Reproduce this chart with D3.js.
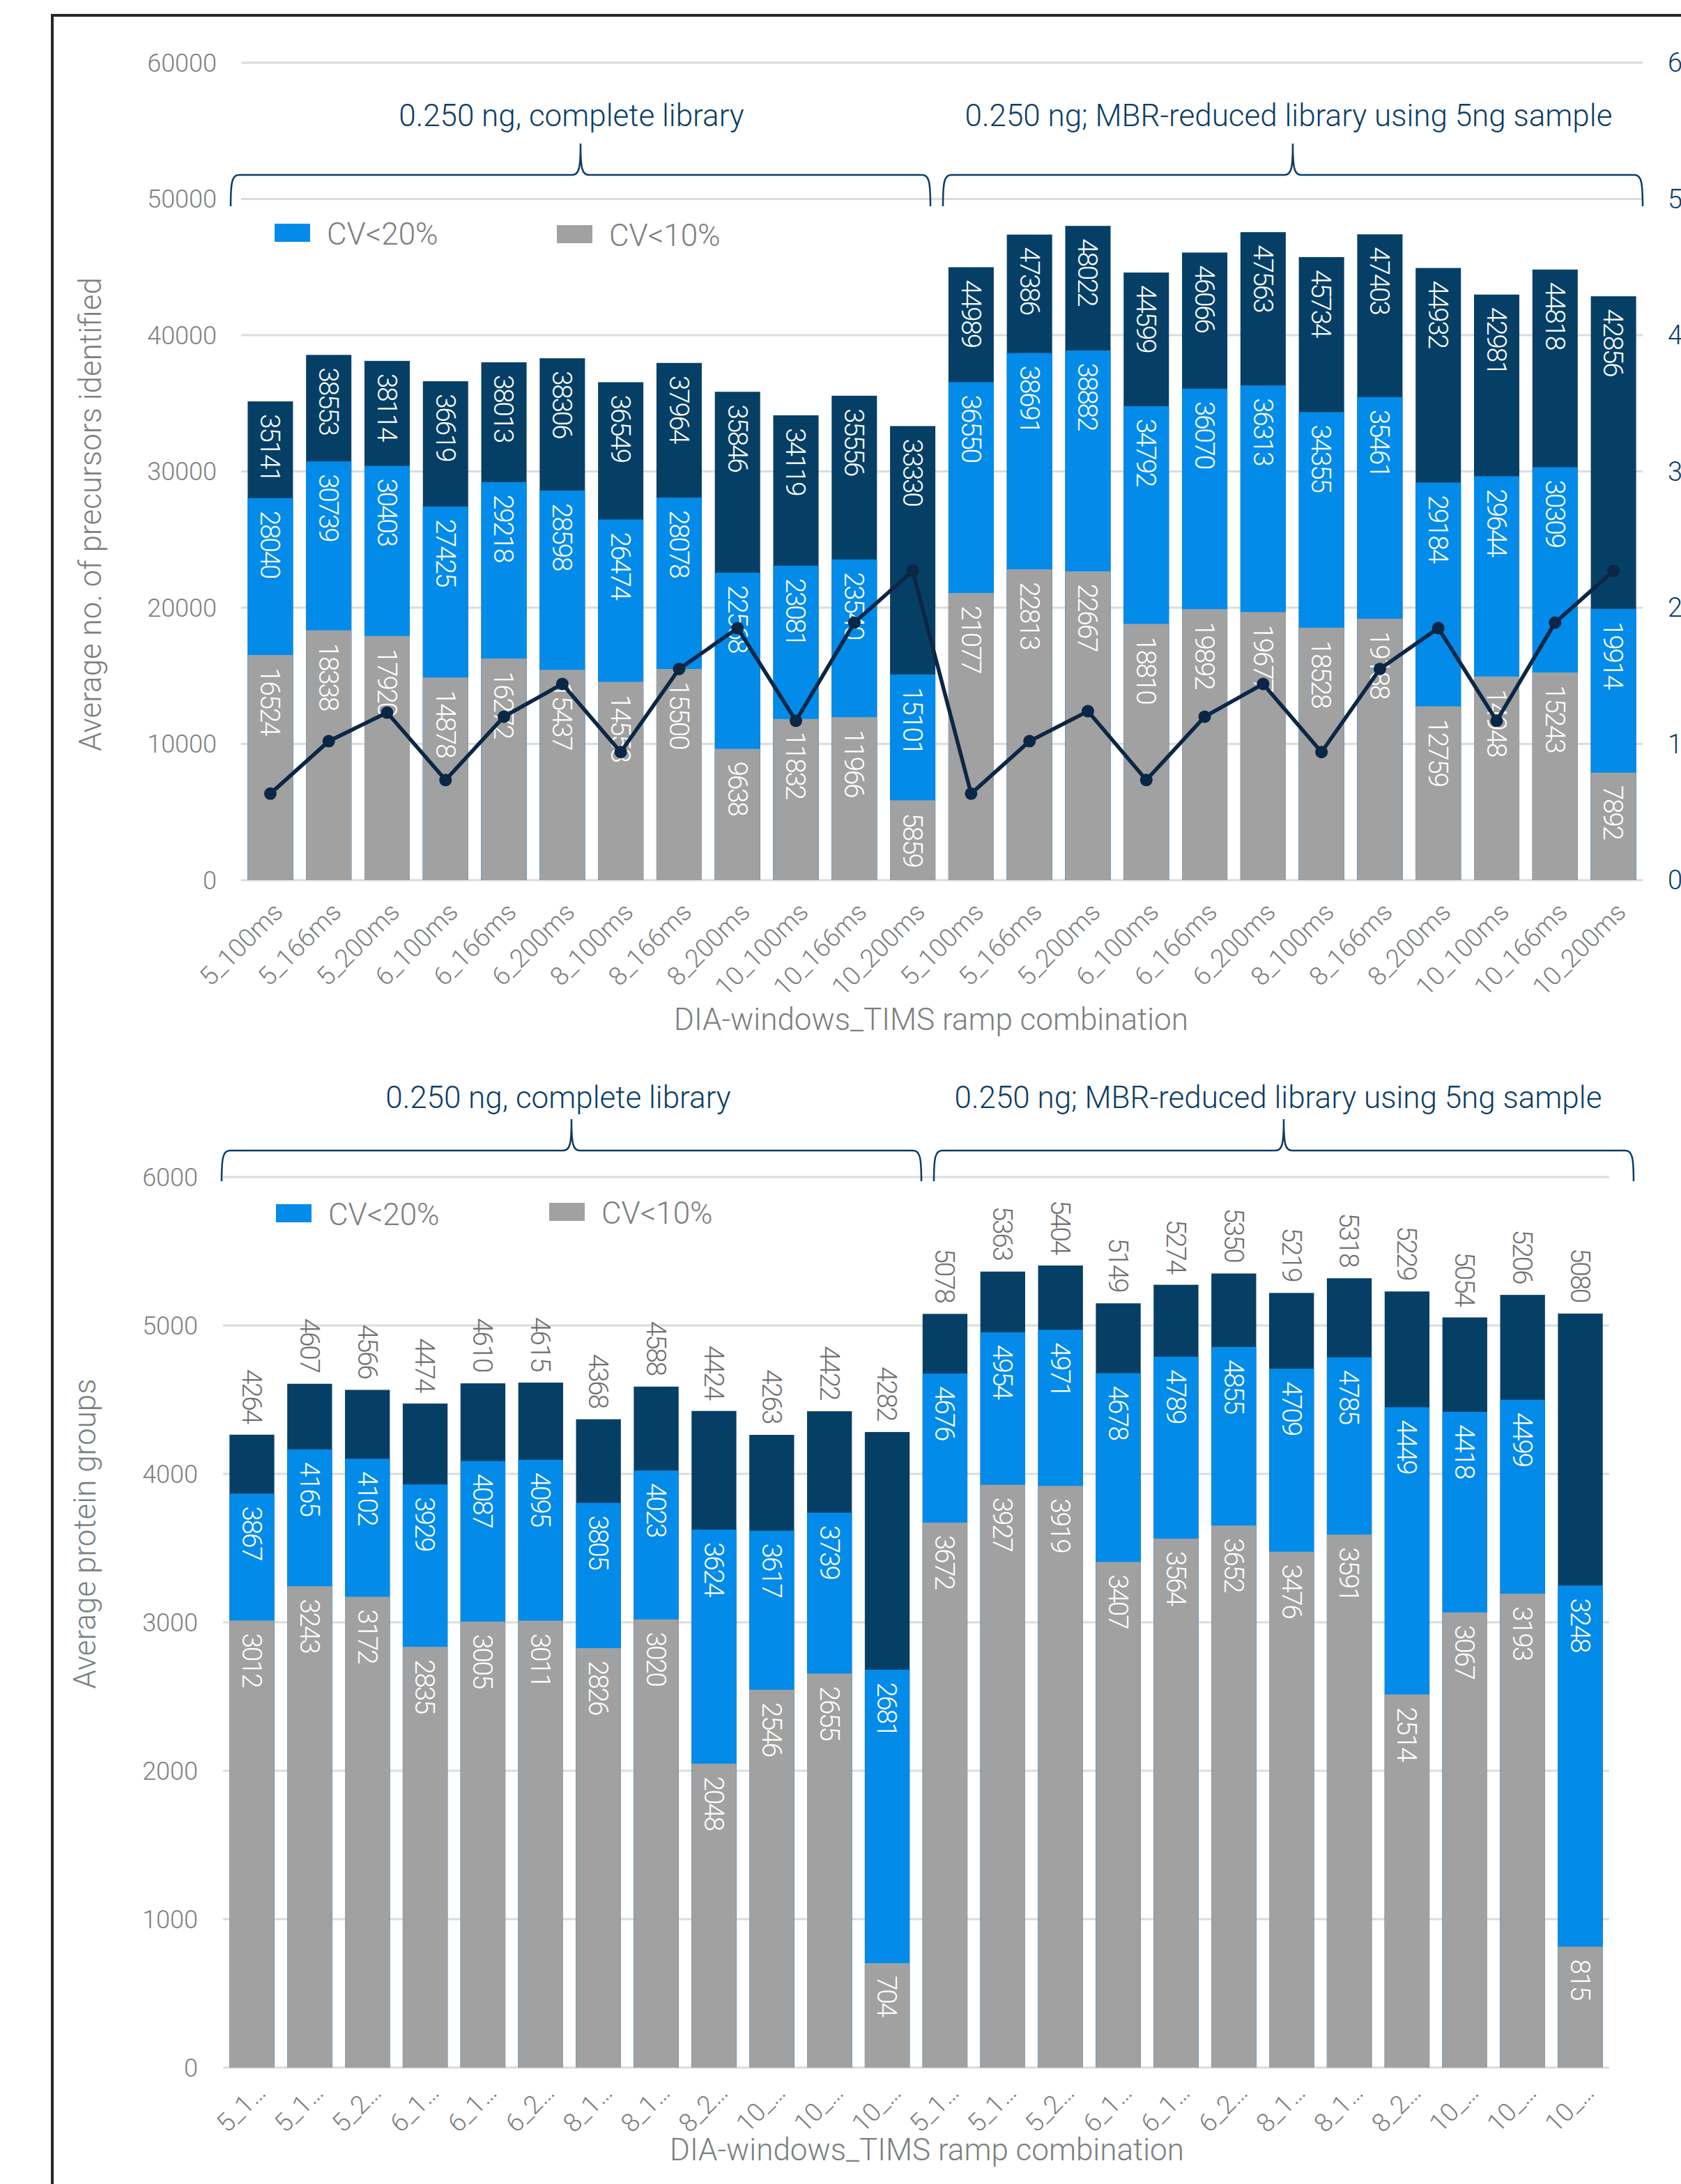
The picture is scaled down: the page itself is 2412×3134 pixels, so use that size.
<!DOCTYPE html>
<html>
<head>
<meta charset="utf-8">
<script src="https://cdn.jsdelivr.net/npm/d3@7"></script>
<style>
  html, body { margin: 0; padding: 0; background: #fff; }
  svg { display: block; font-family: Roboto, "Noto Sans", sans-serif; }
</style>
</head>
<body>
<div id="chart"></div>
<script>
// categories (DIA windows _ TIMS ramp), two library groups of 12
const categories = [
  '5_100ms', '5_166ms', '5_200ms', '6_100ms', '6_166ms', '6_200ms',
  '8_100ms', '8_166ms', '8_200ms', '10_100ms', '10_166ms', '10_200ms',
  '5_100ms', '5_166ms', '5_200ms', '6_100ms', '6_166ms', '6_200ms',
  '8_100ms', '8_166ms', '8_200ms', '10_100ms', '10_166ms', '10_200ms'
];
const groupLabels = ['0.250 ng, complete library', '0.250 ng; MBR-reduced library using 5ng sample'];
const legendLabels = ['CV<20%', 'CV<10%'];

// precursors
const precursorTotal = [35141, 38553, 38114, 36619, 38013, 38306, 36549, 37964, 35846, 34119, 35556, 33330,
  44989, 47386, 48022, 44599, 46066, 47563, 45734, 47403, 44932, 42981, 44818, 42856];
const precursorCv20 = [28040, 30739, 30403, 27425, 29218, 28598, 26474, 28078, 22568, 23081, 23540, 15101,
  36550, 38691, 38882, 34792, 36070, 36313, 34355, 35461, 29184, 29644, 30309, 19914];
const precursorCv10 = [16524, 18338, 17920, 14878, 16272, 15437, 14558, 15500, 9638, 11832, 11966, 5859,
  21077, 22813, 22667, 18810, 19892, 19677, 18528, 19188, 12759, 14948, 15243, 7892];
const precursorLine = [0.635, 1.02, 1.23, 0.735, 1.2, 1.44, 0.94, 1.55, 1.85, 1.17, 1.89, 2.27,
  0.635, 1.02, 1.24, 0.735, 1.2, 1.44, 0.94, 1.55, 1.85, 1.17, 1.89, 2.27];
const precursorTicks = [0, 10000, 20000, 30000, 40000, 50000, 60000];
const lineTicks = [0, 1, 2, 3, 4, 5, 6];

// protein groups
const proteinTotal = [4264, 4607, 4566, 4474, 4610, 4615, 4368, 4588, 4424, 4263, 4422, 4282,
  5078, 5363, 5404, 5149, 5274, 5350, 5219, 5318, 5229, 5054, 5206, 5080];
const proteinCv20 = [3867, 4165, 4102, 3929, 4087, 4095, 3805, 4023, 3624, 3617, 3739, 2681,
  4676, 4954, 4971, 4678, 4789, 4855, 4709, 4785, 4449, 4418, 4499, 3248];
const proteinCv10 = [3012, 3243, 3172, 2835, 3005, 3011, 2826, 3020, 2048, 2546, 2655, 704,
  3672, 3927, 3919, 3407, 3564, 3652, 3476, 3591, 2514, 3067, 3193, 815];
const proteinTicks = [0, 1000, 2000, 3000, 4000, 5000, 6000];

const NAVY = '#063f66', BLUE = '#038be9', GRAY = '#a1a1a1';
const TXT = '#7b7f80', DARK = '#0b3d66', LINE = '#0b2745';

const W = 2412, H = 3134;
const svg = d3.select('#chart').append('svg')
  .attr('width', W).attr('height', H)
  .attr('viewBox', `0 0 ${W} ${H}`);
svg.append('rect').attr('width', W).attr('height', H).attr('fill', '#fff');

// frame
svg.append('path')
  .attr('d', `M75,${H} L75,22 L${W},22`)
  .attr('fill', 'none').attr('stroke', '#262626').attr('stroke-width', 4);

function brace(g, x1, x2, mid, yBot, yLine, yPeak) {
  const r = 12;
  const d = `M${x1},${yBot} C${x1},${yLine + 10} ${x1 + 2},${yLine} ${x1 + r},${yLine}`
    + ` L${mid - r},${yLine} C${mid - 2},${yLine} ${mid},${yLine - 10} ${mid},${yPeak}`
    + ` C${mid},${yLine - 10} ${mid + 2},${yLine} ${mid + r},${yLine}`
    + ` L${x2 - r},${yLine} C${x2 - 2},${yLine} ${x2},${yLine + 10} ${x2},${yBot}`;
  g.append('path').attr('d', d).attr('fill', 'none')
    .attr('stroke', DARK).attr('stroke-width', 2.5);
}

function drawPanel(o) {
  const g = svg.append('g');
  const x = d3.scaleBand().domain(d3.range(categories.length))
    .range(o.xRange).paddingInner(0.224).paddingOuter(0.112);
  const y = d3.scaleLinear().domain([0, d3.max(o.ticks)]).range([o.yBase, o.yTop]);
  const bw = x.bandwidth();
  const cx = i => x(i) + bw / 2;

  // gridlines
  g.selectAll('.grid').data(o.ticks).enter().append('line')
    .attr('x1', o.xRange[0]).attr('x2', o.xRange[1])
    .attr('y1', d => y(d)).attr('y2', d => y(d))
    .attr('stroke', '#dcdcdc').attr('stroke-width', 3);

  // left tick labels
  g.selectAll('.ytick').data(o.ticks).enter().append('text')
    .attr('x', o.tickX).attr('y', d => y(d)).attr('dy', '0.35em')
    .attr('text-anchor', 'end').attr('fill', TXT)
    .style('font-size', '36px').style('font-weight', 300)
    .text(d => d);

  // bars, drawn back to front
  const series = [
    { vals: o.total, color: NAVY, outside: o.totalOutside },
    { vals: o.cv20, color: BLUE },
    { vals: o.cv10, color: GRAY }
  ];
  series.forEach(s => {
    g.selectAll(null).data(s.vals).enter().append('rect')
      .attr('x', (d, i) => x(i)).attr('width', bw)
      .attr('y', d => y(d)).attr('height', d => y(0) - y(d))
      .attr('fill', s.color);
  });
  series.forEach(s => {
    g.selectAll(null).data(s.vals).enter().append('text')
      .attr('transform', (d, i) => s.outside
        ? `translate(${cx(i)},${y(d) - 17}) rotate(90)`
        : `translate(${cx(i)},${y(d) + 18}) rotate(90)`)
      .attr('dy', '0.35em')
      .attr('text-anchor', s.outside ? 'end' : 'start')
      .attr('fill', s.outside ? '#707070' : '#fff')
      .style('font-size', '39px').style('font-weight', 300)
      .style('letter-spacing', '-2.4px')
      .text(d => d);
  });

  // category labels
  g.selectAll('.xlab').data(categories).enter().append('text')
    .attr('transform', (d, i) => `translate(${cx(i) + o.labDx},${o.yBase + o.labDy}) rotate(-45)`)
    .attr('text-anchor', 'end').attr('fill', TXT)
    .style('font-size', '37px').style('font-weight', 300)
    .text(d => o.truncate ? d.slice(0, 3) + '\u2026' : d);

  // axis titles
  g.append('text')
    .attr('x', o.xTitleX).attr('y', o.xTitleY)
    .attr('text-anchor', 'middle').attr('fill', TXT)
    .style('font-size', '44px').style('font-weight', 300)
    .text('DIA-windows_TIMS ramp combination');
  g.append('text')
    .attr('transform', `translate(${o.yTitleX},${o.yTitleCY}) rotate(-90)`)
    .attr('text-anchor', 'middle').attr('fill', TXT)
    .style('font-size', '44px').style('font-weight', 300)
    .text(o.yTitle);

  // legend
  const lg = g.append('g');
  [[BLUE, o.legend[0]], [GRAY, o.legend[1]]].forEach(([c, p], k) => {
    lg.append('rect').attr('x', p[0]).attr('y', p[1]).attr('width', 51).attr('height', 26).attr('fill', c);
    lg.append('text').attr('x', p[0] + 75).attr('y', p[1] + 30)
      .attr('fill', TXT).style('font-size', '44px').style('font-weight', 300)
      .text(legendLabels[k]);
  });

  // group braces and labels
  o.braces.forEach((b, k) => {
    brace(g, b[0], b[1], b[2], o.braceY[0], o.braceY[1], o.braceY[2]);
    g.append('text').attr('x', b[3]).attr('y', o.groupY)
      .attr('text-anchor', 'middle').attr('fill', DARK)
      .style('font-size', '44px').style('font-weight', 300)
      .text(groupLabels[k]);
  });

  return { g, x, y, cx };
}

// top panel: precursors
const topPanel = drawPanel({
  xRange: [346, 2357], yBase: 1263, yTop: 90, ticks: precursorTicks,
  total: precursorTotal, cv20: precursorCv20, cv10: precursorCv10, totalOutside: false,
  tickX: 311, labDx: 20, labDy: 48, truncate: false, xTitleX: 1336, xTitleY: 1478,
  yTitle: 'Average no. of precursors identified', yTitleX: 145, yTitleCY: 738,
  legend: [[394, 321], [799, 323]],
  braces: [[331, 1335, 833, 820], [1353, 2357, 1855, 1849]],
  braceY: [296, 251, 206], groupY: 181
});

// secondary axis line
const yR = d3.scaleLinear().domain([0, 6]).range([1263, 90]);
topPanel.g.selectAll('.rtick').data(lineTicks).enter().append('text')
  .attr('x', 2393).attr('y', d => yR(d)).attr('dy', '0.35em')
  .attr('fill', DARK).style('font-size', '38px').style('font-weight', 300)
  .text(d => d);
topPanel.g.append('path').datum(precursorLine)
  .attr('d', d3.line().x((d, i) => topPanel.cx(i)).y(d => yR(d)))
  .attr('fill', 'none').attr('stroke', LINE).attr('stroke-width', 5.5)
  .attr('stroke-linejoin', 'round');
topPanel.g.selectAll('.pt').data(precursorLine).enter().append('circle')
  .attr('cx', (d, i) => topPanel.cx(i)).attr('cy', d => yR(d)).attr('r', 9)
  .attr('fill', LINE);

// bottom panel: protein groups
drawPanel({
  xRange: [320, 2309], yBase: 2967, yTop: 1689, ticks: proteinTicks,
  total: proteinTotal, cv20: proteinCv20, cv10: proteinCv10, totalOutside: true,
  tickX: 284, labDx: 22, labDy: 38, truncate: true, xTitleX: 1330, xTitleY: 3100,
  yTitle: 'Average protein groups', yTitleX: 137, yTitleCY: 2201,
  legend: [[396, 1728], [788, 1726]],
  braces: [[318, 1322, 820, 801], [1340, 2344, 1842, 1834]],
  braceY: [1695, 1651, 1606], groupY: 1590
});
</script>
</body>
</html>
